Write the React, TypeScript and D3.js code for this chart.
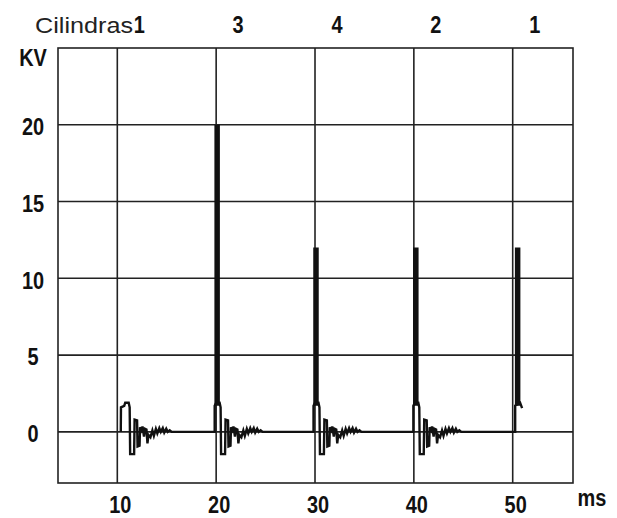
import React, { useEffect, useRef } from 'react';
import * as d3 from 'd3';

// axis ticks
const msTicks = [10, 20, 30, 40, 50];
const kvTicks = [0, 5, 10, 15, 20];
// firing order printed above the grid (one per 10 ms line)
const cylinders = ['1', '3', '4', '2', '1'];

// firing lines: centre time (ms) and peak voltage (kV)
const firingTimes = [20.1, 30.1, 40.2, 50.5];
const firingPeaks = [20, 12, 12, 12];

// moment the spark line collapses after each firing (ms)
const dropTimes = [11.3, 20.5, 30.5, 40.6];

// spark line + ringing, offset (ms) from the drop and voltage (kV)
const ringOffsets = [-0.95, -0.93, -0.6, -0.5, -0.15, -0.05, 0, 0.4, 0.45, 0.7, 0.75, 0.95, 1.0, 1.15, 1.25, 1.4, 1.5, 1.65, 1.75, 1.85, 2.05, 2.25, 2.4, 2.6, 2.75, 2.95, 3.1, 3.3, 3.45, 3.65, 3.8, 4.0, 4.2];
const ringValues = [0, 1.6, 1.7, 1.9, 1.9, 1.6, -1.45, -1.45, 0.8, 0.75, -0.95, -0.9, 0.3, 0.1, 0.35, -0.3, 0.2, 0.15, -0.75, -0.2, -0.35, 0.1, -0.25, 0.2, -0.1, 0.25, 0.0, 0.25, -0.05, 0.2, 0.0, 0.1, 0];

// little hook where the trace ends after the last firing
const tailOffsets = [0.25, 0.45];
const tailValues = [1.9, 1.55];

const W = 617;
const H = 518;

const App = () => {
  const svgRef = useRef<SVGSVGElement>(null);

  useEffect(() => {
    const svg = d3.select(svgRef.current);
    svg.selectAll('*').remove();

    const left = 58, right = 573, top = 48, bottom = 483;

    const x = d3.scaleLinear().domain([4, 56.1]).range([left, right]);
    const y = d3.scaleLinear().domain([-3.33, 25]).range([bottom, top]);

    const ink = '#111';
    const font = '"Liberation Sans", Arial, sans-serif';

    svg.append('rect').attr('width', W).attr('height', H).attr('fill', '#fff');

    // grid
    const grid = svg.append('g').attr('stroke', '#222').attr('stroke-width', 1.6);
    grid.selectAll('.vx')
      .data(msTicks)
      .enter()
      .append('line')
      .attr('x1', d => x(d)).attr('x2', d => x(d))
      .attr('y1', top).attr('y2', bottom);
    grid.selectAll('.hy')
      .data(kvTicks)
      .enter()
      .append('line')
      .attr('x1', left).attr('x2', right)
      .attr('y1', d => y(d)).attr('y2', d => y(d));
    grid.append('rect')
      .attr('x', left).attr('y', top)
      .attr('width', right - left).attr('height', bottom - top)
      .attr('fill', 'none');

    // build the trace
    const ring = ringOffsets.map((o, i) => [o, ringValues[i]] as [number, number]);
    const pts: [number, number][] = [];
    ring.forEach(([o, v]) => pts.push([dropTimes[0] + o, v]));
    firingTimes.forEach((ft, i) => {
      pts.push([ft - 0.25, 0]);
      pts.push([ft - 0.25, 1.7]);
      if (i + 1 < dropTimes.length) {
        ring.filter(([o]) => o >= -0.5).forEach(([o, v]) => pts.push([dropTimes[i + 1] + o, v]));
      } else {
        tailOffsets.forEach((o, j) => pts.push([ft + o, tailValues[j]]));
      }
    });

    const line = d3.line<[number, number]>().x(d => x(d[0])).y(d => y(d[1]));
    svg.append('path')
      .datum(pts)
      .attr('d', line)
      .attr('fill', 'none')
      .attr('stroke', ink)
      .attr('stroke-width', 2.4)
      .attr('stroke-linejoin', 'miter');

    // firing lines
    svg.selectAll('.spike')
      .data(firingTimes)
      .enter()
      .append('line')
      .attr('x1', d => x(d)).attr('x2', d => x(d))
      .attr('y1', y(1.7))
      .attr('y2', (d, i) => y(firingPeaks[i]))
      .attr('stroke', ink)
      .attr('stroke-width', 5.5);

    // tall, slightly narrow bold label like the original
    const label = (tx: number, ty: number, t: string) =>
      svg.append('text')
        .attr('transform', `translate(${tx},${ty}) scale(0.95,1.15)`)
        .attr('text-anchor', 'middle')
        .attr('dominant-baseline', 'middle')
        .attr('font-family', font)
        .attr('font-weight', 'bold')
        .attr('font-size', 21)
        .attr('fill', ink)
        .text(t);

    // y labels
    kvTicks.forEach(d => label(33, y(d) + 4, String(d)));
    label(33, 60, 'KV');

    // x labels
    msTicks.forEach(d => label(x(d) + 3, 507, String(d)));
    label(592, 500, 'ms');

    // cylinder order
    svg.append('text')
      .attr('x', 35).attr('y', 33)
      .attr('font-family', font).attr('font-size', 22)
      .attr('textLength', 98)
      .attr('lengthAdjust', 'spacingAndGlyphs')
      .attr('fill', '#222')
      .text('Cilindras');
    cylinders.forEach((c, i) => label(x(msTicks[i]) + 22, 27, c));
  }, []);

  return (
    <svg ref={svgRef} width={W} height={H} style={{ position: 'absolute', left: 0, top: 0 }}></svg>
  );
};

export default App;
